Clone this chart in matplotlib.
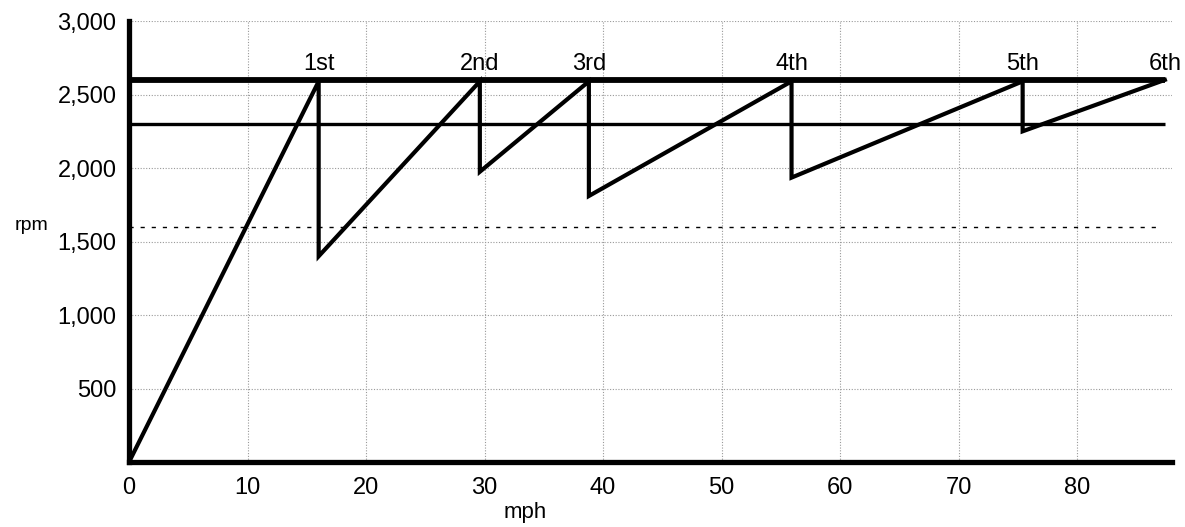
import matplotlib.pyplot as plt

# gear-shift trace
mph = [0, 16.0, 16.0, 29.6, 29.6, 38.8, 38.8, 55.9, 55.9, 75.4, 75.4, 87.4]
rpm = [0, 2590, 1400, 2590, 1975, 2590, 1810, 2590, 1935, 2590, 2250, 2600]

gears = ['1st', '2nd', '3rd', '4th', '5th', '6th']
gear_mph = [16.0, 29.6, 38.8, 55.9, 75.4, 87.4]

shift_rpm = 2600
cruise_rpm = 2300
idle_rpm = 1600

x_ticks = [0, 10, 20, 30, 40, 50, 60, 70, 80]
y_ticks = [500, 1000, 1500, 2000, 2500, 3000]
y_labels = ['500', '1,000', '1,500', '2,000', '2,500', '3,000']

plt.rcParams['font.family'] = ['Liberation Sans Narrow', 'Liberation Sans', 'DejaVu Sans']

fig = plt.figure(figsize=(11.85, 5.27), dpi=100)
ax = fig.add_axes([0.1089, 0.1233, 0.8801, 0.8367])

ax.set_xlim(0, 88)
ax.set_ylim(0, 3000)

ax.set_xticks(x_ticks)
ax.set_yticks(y_ticks)
ax.set_yticklabels(y_labels)
ax.tick_params(length=0, labelsize=17)
ax.tick_params(axis='y', pad=9)
ax.tick_params(axis='x', pad=11)

ax.grid(True, color='#999999', linestyle=(0, (1, 1.5)), linewidth=0.8)
ax.set_axisbelow(True)

for s in ['top', 'right']:
    ax.spines[s].set_visible(False)
for s in ['left', 'bottom']:
    ax.spines[s].set_linewidth(3.8)
    ax.spines[s].set_color('black')

ax.hlines(shift_rpm, 0, 87.4, color='black', linewidth=4.2, zorder=3)
ax.hlines(cruise_rpm, 0, 87.4, color='black', linewidth=2.4, zorder=3)
ax.hlines(idle_rpm, 0, 86.9, color='black', linewidth=1.0,
          linestyles=(0, (3, 5)), zorder=3)

ax.plot(mph, rpm, color='black', linewidth=3.0, zorder=4,
        solid_joinstyle='miter')

for g, x in zip(gears, gear_mph):
    ax.text(x, 2630, g, ha='center', va='bottom', fontsize=17)

fig.text(0.027, 0.572, 'rpm', ha='center', va='center', fontsize=14)
fig.text(0.443, 0.028, 'mph', ha='center', va='center', fontsize=16)

fig.savefig('out.png', dpi=100)
